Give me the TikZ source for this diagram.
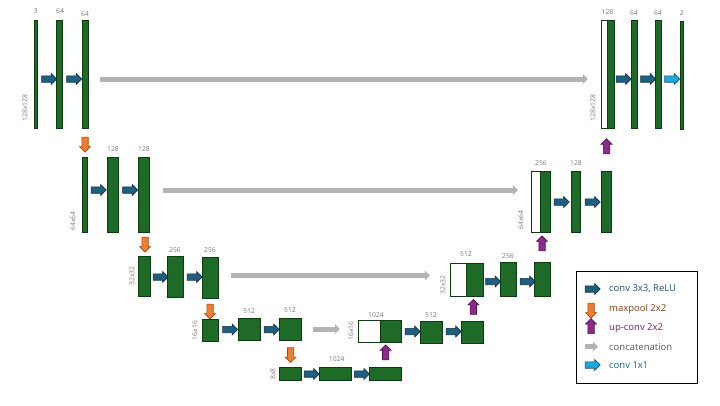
\documentclass[tikz,border=0pt]{standalone}
\usepackage{fontspec}
\setmainfont{Open Sans}
\usetikzlibrary{shapes.arrows,arrows.meta,fit}
\definecolor{gfill}{HTML}{1E6B28}
\definecolor{gline}{HTML}{0E3A12}
\definecolor{cfill}{HTML}{1F5F80}
\definecolor{cline}{HTML}{0F2F40}
\definecolor{ofill}{HTML}{ED7D31}
\definecolor{oline}{HTML}{A0480F}
\definecolor{pfill}{HTML}{8A2B8C}
\definecolor{pline}{HTML}{4A0F4C}
\definecolor{grayA}{HTML}{B3B3B3}
\definecolor{lbfill}{HTML}{1FA8DC}
\definecolor{lbline}{HTML}{0E4E68}
\definecolor{lblc}{HTML}{7A7A7A}
\definecolor{tconv}{HTML}{1F4E79}
\definecolor{tpool}{HTML}{843C0C}
\definecolor{tup}{HTML}{6A1F6E}
\definecolor{tcat}{HTML}{595959}
\definecolor{tone}{HTML}{1F5F80}
\tikzset{
 gbox/.style={draw=gline, fill=gfill, line width=0.8pt, inner sep=0pt},
 wbox/.style={draw=gline, fill=white, line width=0.8pt, inner sep=0pt},
 blk/.style={single arrow, minimum height=15pt, inner xsep=0pt, inner ysep=2.9pt, single arrow head extend=2.3pt, line width=0.6pt, anchor=center},
 conv/.style={blk, fill=cfill, draw=cline},
 pool/.style={blk, fill=ofill, draw=oline, rotate=-90},
 upc/.style={blk, fill=pfill, draw=pline, rotate=90},
 onebyone/.style={blk, fill=lbfill, draw=lbline},
 concat/.style={draw=grayA, line width=5pt, -{Triangle[width=9.5pt,length=5pt]}},
 lbl/.style={text=lblc, font=\fontsize{6.8}{7}\selectfont, inner sep=0pt},
 rlbl/.style={lbl, rotate=90},
 legtxt/.style={anchor=west, font=\fontsize{9.5}{10}\selectfont, inner sep=0pt},
}
\begin{document}
\begin{tikzpicture}[x=1pt,y=-1pt]
\useasboundingbox (0,0) rectangle (720,405);
% ---------- level 1 ----------
\node[gbox, fit={(34,20)(37.5,128)}] (b11) {};
\node[gbox, fit={(56,20)(62.5,128)}] (b12) {};
\node[gbox, fit={(82,20)(88,128)}] (b13) {};
\node[lbl] (l11) at (35.7,11) {3};
\node[lbl] (l12) at (60,11) {64};
\node[lbl] (l13) at (85,14.5) {64};
\node[rlbl] (r11) at (25,108) {128x128};
\node[conv] (c11) at (47.5,79) {};
\node[conv] (c12) at (72.5,79) {};
\node[wbox, fit={(601.7,20)(607.3,128)}] (w1r) {};
\node[gbox, fit={(607.3,20)(614,128)}] (g1r) {};
\node[gbox, fit={(631,20)(637,128)}] (b1r2) {};
\node[gbox, fit={(655,20)(661.7,128)}] (b1r3) {};
\node[gbox, fit={(680,21)(683,129)}] (b1r4) {};
\node[lbl] (l1r1) at (607.5,12.5) {128};
\node[lbl] (l1r2) at (634,13) {64};
\node[lbl] (l1r3) at (658,13) {64};
\node[lbl] (l1r4) at (681.7,13) {2};
\node[rlbl] (r1r) at (593,108) {128x128};
\node[conv] (c1r1) at (622,79) {};
\node[conv] (c1r2) at (646.5,79) {};
\node[onebyone] (o1) at (670.5,79) {};
\coordinate (s1) at (100,79);
\coordinate (e1) at (588,79);
\draw[concat] (s1) -- (e1);
\node[pool] (p1) at (85,143) {};
% ---------- level 2 ----------
\node[gbox, fit={(82,157)(87.3,232)}] (b21) {};
\node[gbox, fit={(107.3,157)(118.7,232)}] (b22) {};
\node[gbox, fit={(138.3,157)(149.3,232)}] (b23) {};
\node[rlbl] (r21) at (73,221) {64x64};
\node[lbl] (l22) at (113,149) {128};
\node[lbl] (l23) at (144,149) {128};
\node[conv] (c21) at (97,190) {};
\node[conv] (c22) at (128.5,190) {};
\coordinate (s2) at (163,190);
\coordinate (e2) at (518,190);
\draw[concat] (s2) -- (e2);
\node[pool] (p2) at (145,243) {};
\node[wbox, fit={(531,171)(540.7,232)}] (w2r) {};
\node[gbox, fit={(540.7,171)(550.7,232)}] (g2r) {};
\node[gbox, fit={(571,171)(580.7,232)}] (b2r2) {};
\node[gbox, fit={(601.3,171)(611,232)}] (b2r3) {};
\node[lbl] (l2r1) at (541,163.3) {256};
\node[lbl] (l2r2) at (576,163.3) {128};
\node[rlbl] (r2r) at (521,220) {64x64};
\node[conv] (c2r1) at (560,202) {};
\node[conv] (c2r2) at (591,202) {};
\node[upc] (u1) at (606.5,148) {};
% ---------- level 3 ----------
\node[gbox, fit={(138.3,256)(150.7,296)}] (b31) {};
\node[gbox, fit={(167.3,256)(183.3,297)}] (b32) {};
\node[gbox, fit={(202.3,257)(218.3,298)}] (b33) {};
\node[rlbl] (r31) at (132,276) {32x32};
\node[lbl] (l32) at (175,250) {256};
\node[lbl] (l33) at (210,250.5) {256};
\node[conv] (c31) at (159,277) {};
\node[conv] (c32) at (193,277) {};
\coordinate (s3) at (231,275.5);
\coordinate (e3) at (430,275.5);
\draw[concat] (s3) -- (e3);
\node[pool] (p3) at (210,310) {};
\node[wbox, fit={(450.7,263.3)(466.7,296.7)}] (w3r) {};
\node[gbox, fit={(466.7,263.3)(483.3,296.7)}] (g3r) {};
\node[gbox, fit={(500,262.5)(516.7,296.7)}] (b3r2) {};
\node[gbox, fit={(534.3,262.5)(550.7,296.7)}] (b3r3) {};
\node[lbl] (l3r1) at (466,254.3) {512};
\node[lbl] (l3r2) at (508,256) {256};
\node[rlbl] (r3r) at (443,285) {32x32};
\node[conv] (c3r1) at (491.5,281.5) {};
\node[conv] (c3r2) at (526,281.5) {};
\node[upc] (u2) at (542,245) {};
% ---------- level 4 ----------
\node[gbox, fit={(202.3,319.3)(218.7,341.7)}] (b41) {};
\node[gbox, fit={(238.3,318.3)(260,340.7)}] (b42) {};
\node[gbox, fit={(279,318.3)(301.7,340.7)}] (b43) {};
\node[rlbl] (r41) at (195,330.5) {16x16};
\node[lbl] (l42) at (249.3,311) {512};
\node[lbl] (l43) at (290,310.5) {512};
\node[conv] (c41) at (228.5,329.5) {};
\node[conv] (c42) at (270,329.5) {};
\coordinate (s4) at (313,329);
\coordinate (e4) at (340,329);
\draw[concat] (s4) -- (e4);
\node[pool] (p4) at (290.7,353.5) {};
\node[wbox, fit={(358.3,320.7)(380.7,342.3)}] (w4r) {};
\node[gbox, fit={(380.7,320.7)(401.7,342.3)}] (g4r) {};
\node[gbox, fit={(420,321)(442.7,343.3)}] (b4r2) {};
\node[gbox, fit={(461.3,321)(483.3,343.3)}] (b4r3) {};
\node[lbl] (l4r1) at (376,315) {1024};
\node[lbl] (l4r2) at (431,315) {512};
\node[rlbl] (r4r) at (351,331) {16x16};
\node[conv] (c4r1) at (411,331.5) {};
\node[conv] (c4r2) at (452,331.5) {};
\node[upc] (u3) at (473.3,308.5) {};
% ---------- level 5 ----------
\node[gbox, fit={(279.3,367.3)(301.7,380.7)}] (b51) {};
\node[gbox, fit={(319.3,367.3)(351.7,380.7)}] (b52) {};
\node[gbox, fit={(369.3,367.3)(401.7,380.7)}] (b53) {};
\node[rlbl] (r51) at (273,374) {8x8};
\node[lbl] (l52) at (336.7,359.3) {1024};
\node[conv] (c51) at (310,374) {};
\node[conv] (c52) at (360.3,374) {};
\node[upc] (u4) at (385.7,354) {};
% ---------- legend ----------
\node[draw=black, line width=0.8pt, inner sep=0pt, fit={(576,271.7)(697.7,383.3)}] (leg) {};
\node[conv] (k1) at (591,289) {};
\node[pool] (k2) at (591,309) {};
\node[upc] (k3) at (591,327.7) {};
\coordinate (k4s) at (585,346.7);
\coordinate (k4e) at (598,346.7);
\draw[concat] (k4s) -- (k4e);
\node[onebyone] (k5) at (591,365) {};
\node[legtxt, text=tconv] (t1) at (609,289) {conv 3x3, ReLU};
\node[legtxt, text=tpool] (t2) at (609,309) {maxpool 2x2};
\node[legtxt, text=tup] (t3) at (609,327.7) {up-conv 2x2};
\node[legtxt, text=tcat] (t4) at (609,346.7) {concatenation};
\node[legtxt, text=tone] (t5) at (609,365) {conv 1x1};
\end{tikzpicture}
\end{document}
